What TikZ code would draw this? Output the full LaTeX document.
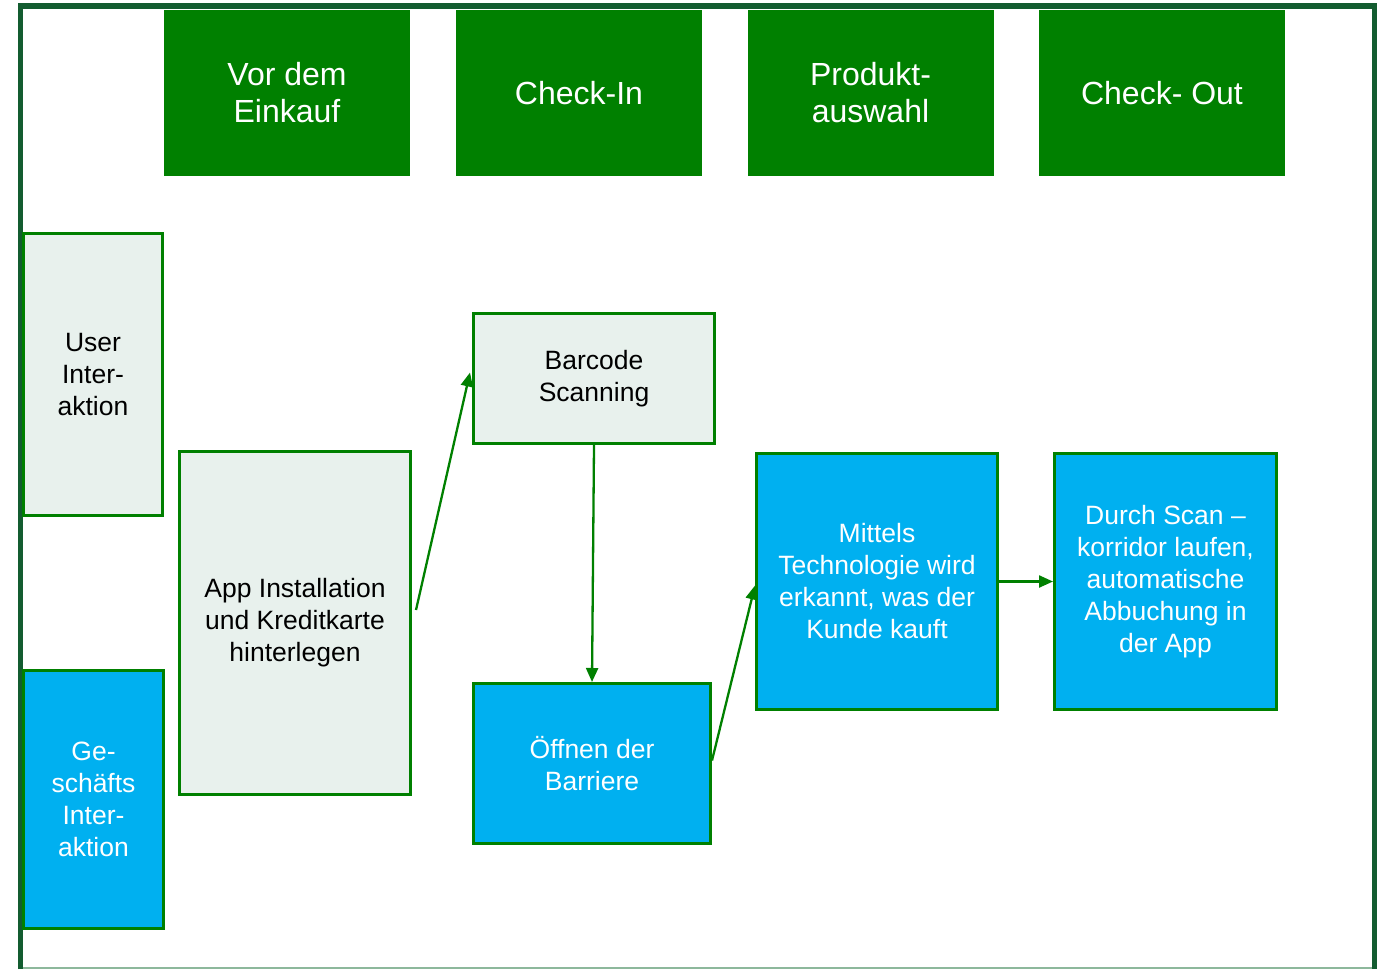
\documentclass[tikz,border=0pt]{standalone}
\usepackage{fontspec}
\setmainfont{Liberation Sans}
\usetikzlibrary{arrows.meta}
\definecolor{hdrgreen}{HTML}{008000}
\definecolor{framegreen}{HTML}{135C30}
\definecolor{lightfill}{HTML}{E8F1ED}
\definecolor{bluefill}{HTML}{00B0F0}
\definecolor{thinline}{HTML}{8DB89C}
\tikzset{
  header/.style={fill=hdrgreen, text=white, minimum width=246pt, minimum height=166pt, inner sep=0pt, align=center, font=\fontsize{32}{37}\selectfont},
  lightbox/.style={draw=hdrgreen, line width=3pt, fill=lightfill, text=black, inner sep=0pt, align=center, font=\fontsize{26.5}{32}\selectfont},
  bluebox/.style={draw=hdrgreen, line width=3pt, fill=bluefill, text=white, inner sep=0pt, align=center, font=\fontsize{26.5}{32}\selectfont},
  flow/.style={draw=hdrgreen, line width=2.3pt, -{Triangle[length=14pt,width=12pt]}},
}
\begin{document}
\begin{tikzpicture}[x=1pt,y=-1pt]
\useasboundingbox (0,0) rectangle (1378,969);
% frame
\draw[thinline, line width=1.5pt] (20.5,968) -- (1374.5,968);
\draw[framegreen, line width=5.5pt] (20.5,969) -- (20.5,6) -- (1374.5,6) -- (1374.5,969);
% headers
\node[header] (h1) at (287,93) {Vor dem\\Einkauf};
\node[header] (h2) at (579,93) {Check-In};
\node[header] (h3) at (870.5,93) {Produkt-\\auswahl};
\node[header] (h4) at (1162,93) {Check- Out};
% side labels
\node[lightbox, minimum width=139pt, minimum height=282pt] (user) at (93,374.5) {User\\Inter-\\aktion};
\node[bluebox, minimum width=140pt, minimum height=258pt] (gesch) at (93.5,799.5) {Ge-\\schäfts\\Inter-\\aktion};
% process boxes
\node[lightbox, minimum width=231pt, minimum height=343pt] (app) at (295,623) {App Installation\\und Kreditkarte\\hinterlegen};
\node[lightbox, minimum width=241pt, minimum height=130pt] (bar) at (594,378.5) {Barcode\\Scanning};
\node[bluebox, minimum width=237pt, minimum height=160pt] (oeff) at (592,763.5) {Öffnen der\\Barriere};
\node[bluebox, minimum width=241pt, minimum height=256pt] (mit) at (877,581.5) {Mittels\\Technologie wird\\erkannt, was der\\Kunde kauft};
\node[bluebox, minimum width=222pt, minimum height=256pt] (durch) at (1165.5,581.5) {Durch Scan –\\korridor laufen,\\automatische\\Abbuchung in\\der App};
% connectors
\draw[flow] ([shift={(4pt,13pt)}]app.east) -- ([shift={(-2pt,6pt)}]bar.west);
\draw[flow] (bar.south) -- (oeff.north);
\draw[flow] ([yshift=3pt]oeff.east) -- ([yshift=-4pt]mit.west);
\draw[flow] (mit.east) -- (durch.west);
\end{tikzpicture}
\end{document}
